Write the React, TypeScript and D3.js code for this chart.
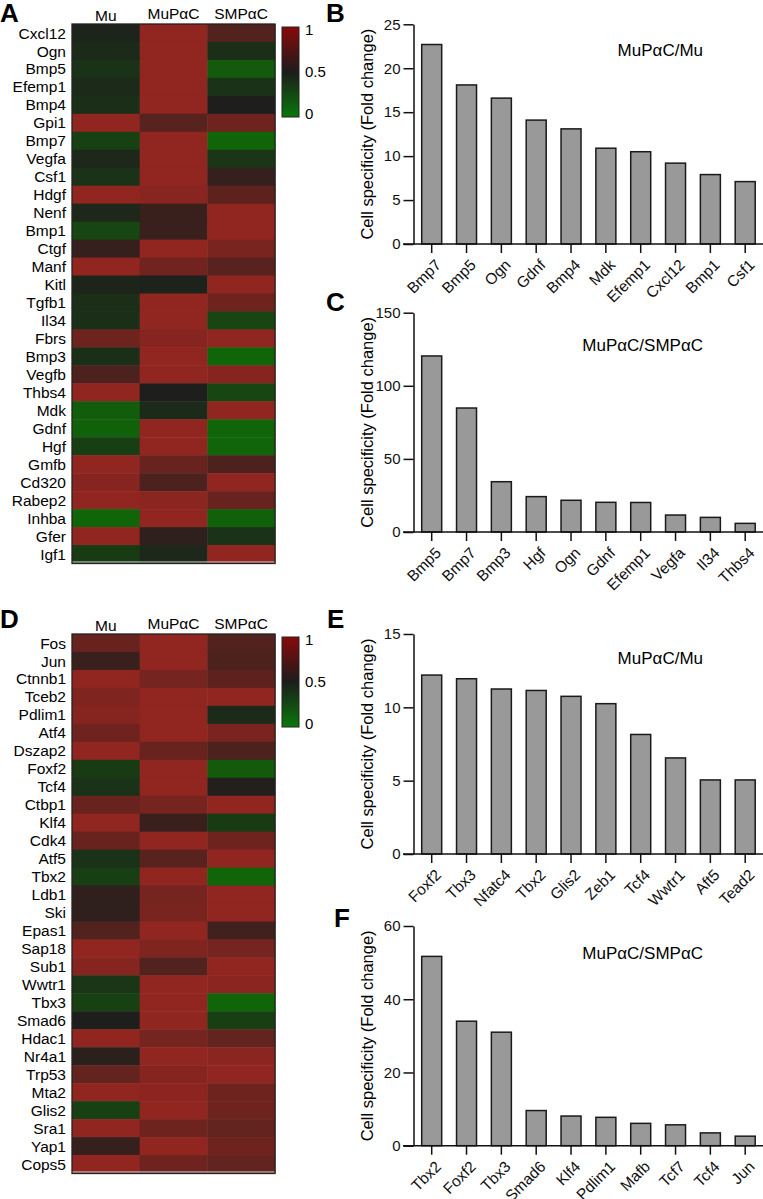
import React, { useEffect, useRef } from "react";
import * as d3 from "d3";

const FONT = "'Liberation Sans', Arial, Helvetica, sans-serif";

// ---------- Heatmap data ----------
const HM_COLUMNS = ["Mu", "MuPαC", "SMPαC"];

const A_GENES = ["Cxcl12", "Ogn", "Bmp5", "Efemp1", "Bmp4", "Gpi1", "Bmp7", "Vegfa", "Csf1", "Hdgf",
  "Nenf", "Bmp1", "Ctgf", "Manf", "Kitl", "Tgfb1", "Il34", "Fbrs", "Bmp3", "Vegfb",
  "Thbs4", "Mdk", "Gdnf", "Hgf", "Gmfb", "Cd320", "Rabep2", "Inhba", "Gfer", "Igf1"];
const A_MU = [0.47, 0.42, 0.38, 0.42, 0.4, 1, 0.28, 0.45, 0.38, 1,
  0.45, 0.25, 0.6, 1, 0.46, 0.4, 0.4, 0.85, 0.4, 0.7,
  1, 0.1, 0.08, 0.3, 1, 0.95, 1, 0.05, 1, 0.32];
const A_MUPAC = [1, 1, 1, 1, 1, 0.75, 1, 1, 1, 0.96,
  0.62, 0.62, 1, 0.86, 0.48, 1, 1, 0.95, 1, 1,
  0.5, 0.42, 1, 1, 0.82, 0.7, 0.97, 1, 0.58, 0.45];
const A_SMPAC = [0.72, 0.4, 0.12, 0.38, 0.5, 0.85, 0.05, 0.35, 0.6, 0.78,
  1, 1, 0.9, 0.75, 1, 0.85, 0.25, 1, 0.05, 0.95,
  0.25, 1, 0.05, 0.05, 0.7, 1, 0.82, 0.08, 0.38, 1];

const D_GENES = ["Fos", "Jun", "Ctnnb1", "Tceb2", "Pdlim1", "Atf4", "Dszap2", "Foxf2", "Tcf4", "Ctbp1",
  "Klf4", "Cdk4", "Atf5", "Tbx2", "Ldb1", "Ski", "Epas1", "Sap18", "Sub1", "Wwtr1",
  "Tbx3", "Smad6", "Hdac1", "Nr4a1", "Trp53", "Mta2", "Glis2", "Sra1", "Yap1", "Cops5"];
const D_MU = [0.82, 0.62, 1, 0.92, 0.95, 0.85, 1, 0.32, 0.38, 0.82,
  1, 0.82, 0.38, 0.3, 0.58, 0.58, 0.72, 1, 0.95, 0.35,
  0.28, 0.5, 1, 0.55, 0.8, 1, 0.28, 1, 0.6, 1];
const D_MUPAC = [1, 1, 0.88, 1, 1, 1, 0.82, 1, 1, 0.88,
  0.62, 1, 0.75, 1, 0.88, 0.9, 1, 0.92, 0.72, 1,
  1, 1, 0.88, 1, 0.95, 0.98, 1, 0.85, 1, 0.85];
const D_SMPAC = [0.72, 0.7, 0.78, 1, 0.42, 0.9, 0.7, 0.12, 0.52, 1,
  0.32, 0.85, 1, 0.05, 1, 1, 0.65, 0.88, 1, 0.97,
  0.05, 0.3, 0.8, 0.97, 1, 0.85, 0.85, 0.8, 0.85, 0.8];

const COLOR_TICKS = [1, 0.5, 0];

// ---------- Bar chart data ----------
const B_GENES = ["Bmp7", "Bmp5", "Ogn", "Gdnf", "Bmp4", "Mdk", "Efemp1", "Cxcl12", "Bmp1", "Csf1"];
const B_VALUES = [22.7, 18.1, 16.6, 14.1, 13.1, 10.9, 10.5, 9.2, 7.9, 7.1];
const B_TICKS = [0, 5, 10, 15, 20, 25];

const C_GENES = ["Bmp5", "Bmp7", "Bmp3", "Hgf", "Ogn", "Gdnf", "Efemp1", "Vegfa", "Il34", "Thbs4"];
const C_VALUES = [120.4, 84.8, 34.4, 24.2, 21.7, 20.3, 20.2, 11.6, 10.0, 5.9];
const C_TICKS = [0, 50, 100, 150];

const E_GENES = ["Foxf2", "Tbx3", "Nfatc4", "Tbx2", "Glis2", "Zeb1", "Tcf4", "Wwtr1", "Aft5", "Tead2"];
const E_VALUES = [12.2, 11.95, 11.25, 11.15, 10.75, 10.25, 8.15, 6.55, 5.05, 5.05];
const E_TICKS = [0, 5, 10, 15];

const F_GENES = ["Tbx2", "Foxf2", "Tbx3", "Smad6", "Klf4", "Pdlim1", "Mafb", "Tcf7", "Tcf4", "Jun"];
const F_VALUES = [51.7, 34.0, 31.0, 9.6, 8.1, 7.75, 6.1, 5.7, 3.5, 2.6];
const F_TICKS = [0, 20, 40, 60];

const Y_TITLE = "Cell specificity (Fold change)";

const heatColor = d3
  .scaleLinear<string>()
  .domain([0, 0.5, 1])
  .range(["#0f6d07", "#1e1f1c", "#912520"])
  .interpolate(d3.interpolateRgb);

type HeatProps = {
  top: number;
  letter: string;
  letterY: number;
  genes: string[];
  mu: number[];
  mupac: number[];
  smpac: number[];
  gradId: string;
};

function Heatmap({ top, letter, letterY, genes, mu, mupac, smpac, gradId }: HeatProps) {
  const x = d3.scaleBand<string>().domain(HM_COLUMNS).range([72, 275]);
  const y = d3.scaleBand<string>().domain(genes).range([top, top + 539]);
  const cols = [mu, mupac, smpac];
  const cb = d3.scaleLinear().domain([0, 1]).range([top + 90, top + 6]);
  const headerDy = [0, -2, -2];
  return (
    <g>
      <text x={0} y={letterY} fontSize={26} fontWeight="bold" fontFamily={FONT}>
        {letter}
      </text>
      {HM_COLUMNS.map((c, i) => (
        <text
          key={c}
          x={(x(c) as number) + x.bandwidth() / 2}
          y={top - 3 + headerDy[i]}
          textAnchor="middle"
          fontSize={15.5}
          fontFamily={FONT}
        >
          {c}
        </text>
      ))}
      {genes.map((g, r) =>
        HM_COLUMNS.map((c, ci) => (
          <rect
            key={g + c}
            x={x(c) as number}
            y={y(g) as number}
            width={x.bandwidth() + 0.5}
            height={y.bandwidth() + 0.5}
            fill={heatColor(cols[ci][r])}
          />
        ))
      )}
      <line x1={72} x2={275} y1={top + 538} y2={top + 538} stroke="#d8d8d8" strokeWidth={1} />
      <rect x={72} y={top} width={203} height={539.5} fill="none" stroke="#222" strokeWidth={1.3} />
      {genes.map((g) => (
        <text
          key={g}
          x={66}
          y={(y(g) as number) + y.bandwidth() / 2}
          dy="0.36em"
          textAnchor="end"
          fontSize={15.5}
          fontFamily={FONT}
        >
          {g}
        </text>
      ))}
      <defs>
        <linearGradient id={gradId} x1="0" y1="0" x2="0" y2="1">
          <stop offset="0%" stopColor="#8a0a0a" />
          <stop offset="50%" stopColor="#1c1c1c" />
          <stop offset="100%" stopColor="#0a780a" />
        </linearGradient>
      </defs>
      <rect x={282} y={top + 3} width={17} height={90} fill={`url(#${gradId})`} stroke="#222" strokeWidth={1} />
      <line x1={296} x2={299} y1={cb(0.5)} y2={cb(0.5)} stroke="#222" strokeWidth={1} />
      {COLOR_TICKS.map((t) => (
        <text key={t} x={305} y={cb(t)} dy="0.36em" fontSize={15} fontFamily={FONT}>
          {t}
        </text>
      ))}
    </g>
  );
}

type BarProps = {
  letter: string;
  letterX: number;
  letterY: number;
  genes: string[];
  values: number[];
  ticks: number[];
  yTop: number;
  yZero: number;
  title: string;
  titleY: number;
};

function BarChart({ letter, letterX, letterY, genes, values, ticks, yTop, yZero, title, titleY }: BarProps) {
  const yAxisRef = useRef<SVGGElement>(null);
  const xAxisRef = useRef<SVGGElement>(null);
  const axisX = 413.5;
  const x = d3.scaleBand<string>().domain(genes).range([421.7, 755.2]).paddingInner(0.426).paddingOuter(0);
  const y = d3.scaleLinear().domain([0, ticks[ticks.length - 1]]).range([yZero, yTop]);

  useEffect(() => {
    if (yAxisRef.current) {
      const g = d3.select(yAxisRef.current);
      g.selectAll("*").remove();
      g.call(d3.axisLeft(y).tickValues(ticks).tickSize(10).tickSizeOuter(0).tickPadding(3) as any);
      g.selectAll("path, line").attr("stroke", "#111").attr("stroke-width", 1.5);
      g.selectAll("text").attr("font-size", 15).attr("font-family", FONT).attr("fill", "#111");
    }
    if (xAxisRef.current) {
      const g = d3.select(xAxisRef.current);
      g.selectAll("*").remove();
      g.call(d3.axisBottom(x).tickSize(9).tickSizeOuter(0) as any);
      g.select(".domain").remove();
      g.selectAll("line").attr("stroke", "#111").attr("stroke-width", 1.5);
      g.selectAll("text")
        .attr("font-size", 15.5)
        .attr("font-family", FONT)
        .attr("fill", "#111")
        .attr("x", 0)
        .attr("y", 0)
        .attr("dy", "0.35em")
        .attr("text-anchor", "end")
        .attr("transform", "translate(6.5,18) rotate(-45)");
    }
  });

  return (
    <g>
      <text x={letterX} y={letterY} fontSize={26} fontWeight="bold" fontFamily={FONT}>
        {letter}
      </text>
      <text
        transform={`translate(367,${(yTop + yZero) / 2}) rotate(-90)`}
        textAnchor="middle"
        dy="0.35em"
        fontSize={16.5}
        fontFamily={FONT}
      >
        {Y_TITLE}
      </text>
      {genes.map((g, i) => (
        <rect
          key={g + i}
          x={x(g) as number}
          y={y(values[i])}
          width={x.bandwidth()}
          height={yZero - y(values[i])}
          fill="#999999"
          stroke="#1a1a1a"
          strokeWidth={1.5}
        />
      ))}
      <g ref={yAxisRef} transform={`translate(${axisX},0)`} />
      <g ref={xAxisRef} transform={`translate(0,${yZero})`} />
      <line x1={403} x2={763} y1={yZero} y2={yZero} stroke="#111" strokeWidth={1.5} />
      <text x={703} y={titleY} textAnchor="end" fontSize={17} fontFamily={FONT}>
        {title}
      </text>
    </g>
  );
}

export default function App() {
  return (
    <svg
      width={763}
      height={1199}
      style={{ position: "absolute", left: 0, top: 0, background: "#fff" }}
    >
      <rect x={0} y={0} width={763} height={1199} fill="#fff" />
      <Heatmap top={24} letter="A" letterY={21.5} genes={A_GENES} mu={A_MU} mupac={A_MUPAC} smpac={A_SMPAC} gradId="gradA" />
      <Heatmap top={634} letter="D" letterY={628} genes={D_GENES} mu={D_MU} mupac={D_MUPAC} smpac={D_SMPAC} gradId="gradD" />
      <BarChart letter="B" letterX={326} letterY={22} genes={B_GENES} values={B_VALUES} ticks={B_TICKS}
        yTop={24.3} yZero={244} title="MuPαC/Mu" titleY={56} />
      <BarChart letter="C" letterX={326} letterY={311} genes={C_GENES} values={C_VALUES} ticks={C_TICKS}
        yTop={312.7} yZero={532} title="MuPαC/SMPαC" titleY={351} />
      <BarChart letter="E" letterX={327} letterY={628} genes={E_GENES} values={E_VALUES} ticks={E_TICKS}
        yTop={634} yZero={854} title="MuPαC/Mu" titleY={664} />
      <BarChart letter="F" letterX={334} letterY={927} genes={F_GENES} values={F_VALUES} ticks={F_TICKS}
        yTop={926} yZero={1145.7} title="MuPαC/SMPαC" titleY={959} />
    </svg>
  );
}
